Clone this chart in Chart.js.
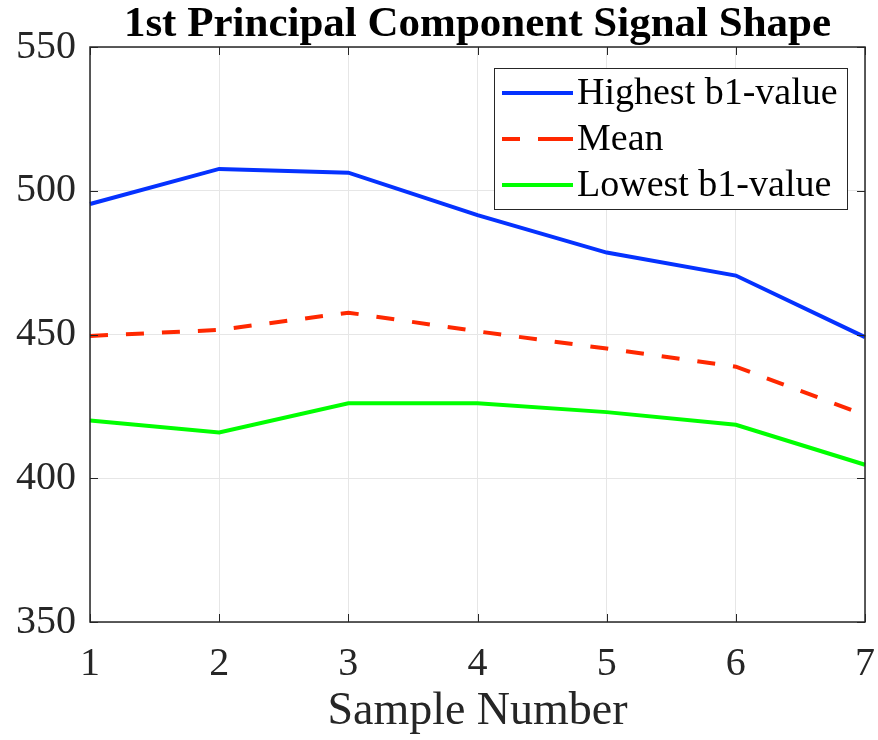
<!DOCTYPE html>
<html>
<head>
<meta charset="utf-8">
<script src="https://cdn.jsdelivr.net/npm/chart.js@4/dist/chart.umd.min.js"></script>
<style>
html,body{margin:0;padding:0;background:#fff;}
#wrap{width:878px;height:740px;}
</style>
</head>
<body>
<div id="wrap"><canvas id="c" width="878" height="740"></canvas></div>
<script>
const categories = [1, 2, 3, 4, 5, 6, 7];
const highest = [495.4, 507.6, 506.3, 491.5, 478.5, 470.5, 449.1];
const meanVals = [449.5, 451.6, 457.6, 451.1, 445.1, 438.8, 422.0];
const lowest = [420.1, 415.9, 426.1, 426.1, 423.0, 418.6, 404.7];
const yTicks = [350, 400, 450, 500, 550];
const seriesNames = ['Highest b1-value', 'Mean', 'Lowest b1-value'];
const titleText = '1st Principal Component Signal Shape';

const FONT = "'Liberation Serif', 'Times New Roman', serif";
const BLUE = 'rgb(5,50,255)', RED = 'rgb(255,40,0)', GREEN = 'rgb(0,255,0)';

const framePlugin = {
  id: 'frame',
  afterDatasetsDraw(chart) {
    const {ctx, chartArea: a, scales} = chart;
    ctx.save();
    // inward ticks
    ctx.strokeStyle = '#262626';
    ctx.lineWidth = 1;
    ctx.beginPath();
    categories.forEach((c, i) => {
      const x = Math.round(scales.x.getPixelForValue(i)) + 0.5;
      ctx.moveTo(x, a.bottom); ctx.lineTo(x, a.bottom - 8);
      ctx.moveTo(x, a.top); ctx.lineTo(x, a.top + 8);
    });
    yTicks.forEach(v => {
      const y = Math.round(scales.y.getPixelForValue(v)) + 0.5;
      ctx.moveTo(a.left, y); ctx.lineTo(a.left + 8, y);
      ctx.moveTo(a.right, y); ctx.lineTo(a.right - 8, y);
    });
    ctx.stroke();
    // box
    ctx.strokeStyle = '#262626';
    ctx.lineWidth = 1.5;
    ctx.strokeRect(a.left, a.top, a.right - a.left, a.bottom - a.top);
    // title
    ctx.fillStyle = '#000';
    ctx.font = "bold 43px " + FONT;
    ctx.textAlign = 'center';
    ctx.textBaseline = 'middle';
    ctx.fillText(titleText, (a.left + a.right) / 2, 25);
    // legend
    const bx = a.left + 404, by = a.top + 21, bw = 353, bh = 141;
    ctx.fillStyle = '#fff';
    ctx.fillRect(bx, by, bw, bh);
    ctx.strokeStyle = '#262626';
    ctx.lineWidth = 1;
    ctx.strokeRect(bx + 0.5, by + 0.5, bw, bh);
    const colors = [BLUE, RED, GREEN];
    const dashes = [[], [18, 18, 35, 0], []];
    ctx.font = "38px " + FONT;
    ctx.textBaseline = 'middle';
    ctx.textAlign = 'left';
    seriesNames.forEach((name, i) => {
      const y = by + 25 + i * 46;
      ctx.strokeStyle = colors[i];
      ctx.lineWidth = 4;
      ctx.setLineDash(dashes[i]);
      ctx.beginPath();
      ctx.moveTo(bx + 8, y); ctx.lineTo(bx + 79, y);
      ctx.stroke();
      ctx.setLineDash([]);
      ctx.fillStyle = '#000';
      ctx.fillText(name, bx + 83, y + 1);
    });
    ctx.restore();
  }
};

new Chart(document.getElementById('c'), {
  type: 'line',
  data: {
    labels: categories,
    datasets: [
      {label: seriesNames[0], data: highest, borderColor: BLUE, borderWidth: 4, pointRadius: 0, tension: 0, fill: false},
      {label: seriesNames[1], data: meanVals, borderColor: RED, borderWidth: 4, borderDash: [18, 18], pointRadius: 0, tension: 0, fill: false},
      {label: seriesNames[2], data: lowest, borderColor: GREEN, borderWidth: 4, pointRadius: 0, tension: 0, fill: false}
    ]
  },
  options: {
    responsive: false,
    animation: false,
    layout: {padding: {left: 0, right: 13, top: 47, bottom: 0}},
    plugins: {
      legend: {display: false},
      tooltip: {enabled: false},
      title: {display: false}
    },
    scales: {
      x: {
        type: 'category',
        offset: false,
        grid: {color: '#e6e6e6', lineWidth: 1, drawTicks: false},
        border: {display: false},
        ticks: {color: '#262626', font: {family: FONT, size: 40, lineHeight: 1}, padding: 22, maxRotation: 0},
        title: {display: true, text: 'Sample Number', color: '#262626', font: {family: FONT, size: 46, lineHeight: 1}, padding: {top: 0, bottom: 5}},
        afterFit(s) { s.height = 118; s.paddingLeft = 0; s.paddingRight = 0; }
      },
      y: {
        min: 350, max: 550,
        grid: {color: '#e6e6e6', lineWidth: 1, drawTicks: false},
        border: {display: false},
        afterBuildTicks(s) { s.ticks = yTicks.map(v => ({value: v})); },
        ticks: {color: '#262626', font: {family: FONT, size: 40, lineHeight: 1}, padding: 14},
        afterFit(s) { s.width = 90; s.paddingTop = 0; s.paddingBottom = 0; }
      }
    }
  },
  plugins: [framePlugin]
});
</script>
</body>
</html>
